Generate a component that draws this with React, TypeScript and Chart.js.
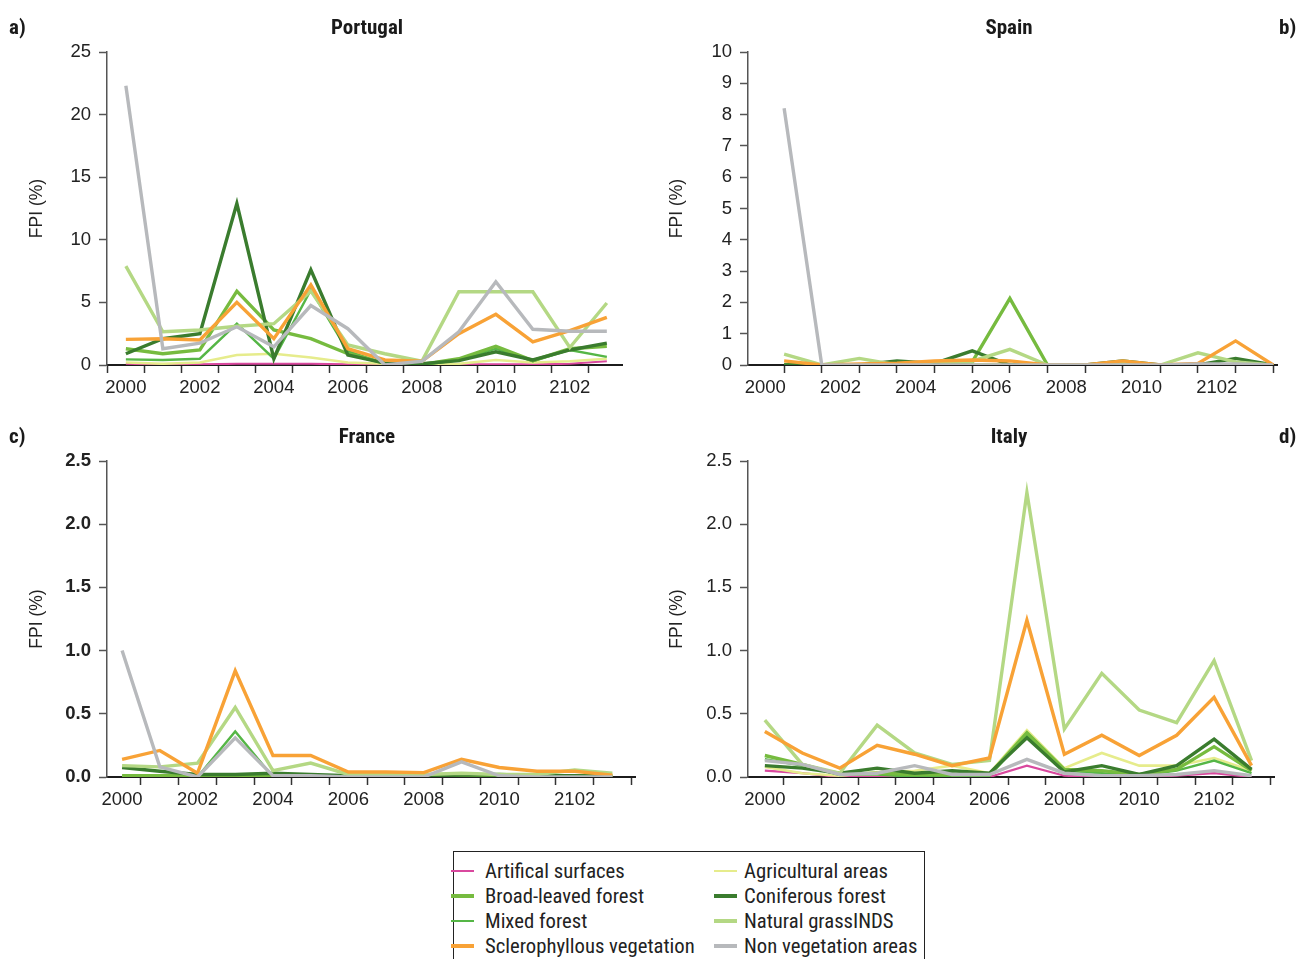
import React, { useEffect, useRef } from 'react';
import { Chart, registerables } from 'chart.js';

Chart.register(...registerables);

const FONT = "'Liberation Sans', Arial, Helvetica, sans-serif";
const NARROW = "'Roboto Condensed', 'Liberation Sans Narrow', 'Arial Narrow', 'DejaVu Sans Condensed', sans-serif";

// ---------- data ----------
const years = [2000, 2001, 2002, 2003, 2004, 2005, 2006, 2007, 2008, 2009, 2010, 2011, 2012, 2013];
const xLabelYears = [2000, 2002, 2004, 2006, 2008, 2010, 2012];
const xLabelTexts = ['2000', '2002', '2004', '2006', '2008', '2010', '2102'];

const landCovers = [
  'Artifical surfaces',
  'Agricultural areas',
  'Broad-leaved forest',
  'Coniferous forest',
  'Mixed forest',
  'Natural grassINDS',
  'Sclerophyllous vegetation',
  'Non vegetation areas',
];

// Portugal
const ptArtificial = [0.1, 0.05, 0.05, 0.1, 0.1, 0.1, 0.05, 0.05, 0.05, 0.05, 0.05, 0.05, 0.1, 0.3];
const ptAgricultural = [0.2, 0.1, 0.2, 0.8, 0.9, 0.6, 0.2, 0.1, 0.0, 0.1, 0.4, 0.2, 0.3, 0.5];
const ptBroadleaved = [1.3, 0.9, 1.2, 5.9, 2.8, 2.1, 0.9, 0.15, 0.05, 0.5, 1.5, 0.35, 1.3, 1.5];
const ptConiferous = [0.9, 2.1, 2.5, 12.9, 0.5, 7.6, 0.8, 0.15, 0.1, 0.35, 1.05, 0.4, 1.2, 1.75];
const ptMixed = [0.45, 0.4, 0.5, 3.3, 0.5, 6.0, 1.1, 0.1, 0.0, 0.4, 1.3, 0.3, 1.2, 0.65];
const ptGrassland = [7.9, 2.65, 2.8, 3.1, 3.3, 5.9, 1.6, 0.9, 0.3, 5.85, 5.85, 5.85, 1.4, 4.95];
const ptSclerophyllous = [2.05, 2.1, 2.0, 5.0, 2.1, 6.4, 1.3, 0.4, 0.3, 2.5, 4.05, 1.85, 2.75, 3.8];
const ptNonVegetation = [22.3, 1.3, 1.75, 3.05, 1.45, 4.75, 2.9, 0.0, 0.3, 2.65, 6.65, 2.85, 2.7, 2.7];

// Spain
const esArtificial = [0, 0, 0, 0, 0, 0, 0, 0, 0, 0, 0, 0, 0, 0];
const esAgricultural = [0.02, 0.02, 0.02, 0.02, 0.02, 0.02, 0.02, 0.02, 0.0, 0.02, 0.02, 0.02, 0.02, 0.0];
const esBroadleaved = [0, 0, 0, 0, 0.03, 0.1, 2.13, 0, 0, 0, 0, 0, 0, 0];
const esConiferous = [0, 0, 0, 0.13, 0.05, 0.45, 0, 0, 0, 0.13, 0, 0, 0.21, 0];
const esMixed = [0.01, 0, 0, 0, 0, 0, 0, 0, 0, 0, 0, 0, 0, 0];
const esGrassland = [0.35, 0, 0.21, 0, 0.1, 0.12, 0.5, 0, 0, 0.05, 0, 0.39, 0.1, 0];
const esSclerophyllous = [0.13, 0, 0.03, 0.06, 0.13, 0.16, 0.13, 0, 0, 0.13, 0, 0.05, 0.77, 0];
const esNonVegetation = [8.2, 0, 0, 0, 0, 0, 0, 0, 0, 0, 0, 0.03, 0.03, 0];

// France
const frArtificial = [0, 0, 0, 0, 0, 0, 0, 0, 0, 0, 0, 0, 0, 0];
const frAgricultural = [0, 0, 0, 0.005, 0, 0, 0, 0, 0, 0, 0, 0, 0, 0];
const frBroadleaved = [0.01, 0.01, 0.01, 0.01, 0.01, 0.01, 0.01, 0.01, 0.01, 0.01, 0.01, 0.01, 0.01, 0.01];
const frConiferous = [0.075, 0.045, 0.02, 0.02, 0.03, 0.02, 0.01, 0.01, 0.01, 0.015, 0.02, 0.01, 0.01, 0.005];
const frMixed = [0, 0, 0, 0.36, 0, 0, 0, 0, 0, 0, 0, 0, 0, 0];
const frGrassland = [0.09, 0.08, 0.11, 0.55, 0.05, 0.11, 0.02, 0.02, 0.02, 0.03, 0.02, 0.02, 0.055, 0.03];
const frSclerophyllous = [0.14, 0.21, 0.03, 0.84, 0.17, 0.17, 0.04, 0.04, 0.035, 0.14, 0.075, 0.045, 0.045, 0.015];
const frNonVegetation = [1.0, 0.08, 0.0, 0.31, 0.01, 0.01, 0, 0, 0, 0.12, 0.01, 0, 0, 0];

// Italy
const itArtificial = [0.05, 0.03, 0.0, 0.0, 0.0, 0.0, 0.0, 0.09, 0.01, 0.0, 0.0, 0.01, 0.03, 0.0];
const itAgricultural = [0.08, 0.03, 0.01, 0.04, 0.05, 0.09, 0.03, 0.37, 0.07, 0.19, 0.09, 0.09, 0.15, 0.05];
const itBroadleaved = [0.17, 0.1, 0.02, 0.03, 0.02, 0.02, 0.02, 0.35, 0.06, 0.05, 0.02, 0.06, 0.24, 0.05];
const itConiferous = [0.09, 0.07, 0.03, 0.07, 0.03, 0.05, 0.03, 0.31, 0.04, 0.09, 0.02, 0.09, 0.3, 0.06];
const itMixed = [0.14, 0.09, 0.02, 0.02, 0.0, 0.0, 0.01, 0.33, 0.05, 0.03, 0.01, 0.05, 0.13, 0.03];
const itGrassland = [0.45, 0.1, 0.03, 0.41, 0.19, 0.1, 0.13, 2.25, 0.38, 0.82, 0.53, 0.43, 0.92, 0.13];
const itSclerophyllous = [0.36, 0.19, 0.07, 0.25, 0.18, 0.09, 0.15, 1.24, 0.18, 0.33, 0.17, 0.33, 0.63, 0.09];
const itNonVegetation = [0.13, 0.1, 0.02, 0.03, 0.09, 0.02, 0.02, 0.14, 0.03, 0.01, 0.01, 0.02, 0.05, 0.01];

const portugalSeries = [ptArtificial, ptAgricultural, ptBroadleaved, ptConiferous, ptMixed, ptGrassland, ptSclerophyllous, ptNonVegetation];
const spainSeries = [esArtificial, esAgricultural, esBroadleaved, esConiferous, esMixed, esGrassland, esSclerophyllous, esNonVegetation];
const franceSeries = [frArtificial, frAgricultural, frBroadleaved, frConiferous, frMixed, frGrassland, frSclerophyllous, frNonVegetation];
const italySeries = [itArtificial, itAgricultural, itBroadleaved, itConiferous, itMixed, itGrassland, itSclerophyllous, itNonVegetation];

const yTicksPortugal = [0, 5, 10, 15, 20, 25];
const yTicksSpain = [0, 1, 2, 3, 4, 5, 6, 7, 8, 9, 10];
const yTicksFraction = [0, 0.5, 1.0, 1.5, 2.0, 2.5];

// ---------- styles ----------
const coverStyles = [
  { color: '#d9489e', width: 2.2, order: 7 },
  { color: '#e6ec8c', width: 2.6, order: 6 },
  { color: '#76bb3f', width: 3.4, order: 4 },
  { color: '#3a7c2e', width: 3.4, order: 3 },
  { color: '#55b646', width: 2.4, order: 5 },
  { color: '#b4d884', width: 3.4, order: 2 },
  { color: '#f8a236', width: 3.4, order: 1 },
  { color: '#b7b9bc', width: 3.4, order: 0 },
];

type PanelCfg = {
  title: string;
  letter: string;
  letterSide: 'left' | 'right';
  series: number[][];
  yTicks: number[];
  decimals: number;
  yBold: boolean;
  xMin: number;
  xMax: number;
  labelPhase: number;
  tickPhase: number;
  box: { left: number; top: number; w: number; h: number };
  area: { l: number; t: number; r: number; b: number };
  titleX: number;
};

const panels: PanelCfg[] = [
  {
    title: 'Portugal', letter: 'a)', letterSide: 'left', series: portugalSeries, yTicks: yTicksPortugal,
    decimals: 0, yBold: false, xMin: 1999.49, xMax: 2013.41, labelPhase: 0, tickPhase: 0.5,
    box: { left: 0, top: 30, w: 648, h: 390 }, area: { l: 107, t: 52, r: 622, b: 365 }, titleX: 37,
  },
  {
    title: 'Spain', letter: 'b)', letterSide: 'right', series: spainSeries, yTicks: yTicksSpain,
    decimals: 0, yBold: false, xMin: 1999.04, xMax: 2013.1, labelPhase: -0.5, tickPhase: 0,
    box: { left: 648, top: 30, w: 648, h: 390 }, area: { l: 748, t: 52, r: 1277, b: 365 }, titleX: 677,
  },
  {
    title: 'France', letter: 'c)', letterSide: 'left', series: franceSeries, yTicks: yTicksFraction,
    decimals: 1, yBold: true, xMin: 1999.6, xMax: 2013.6, labelPhase: 0, tickPhase: 0.5,
    box: { left: 0, top: 440, w: 648, h: 390 }, area: { l: 107, t: 461, r: 635, b: 777 }, titleX: 37,
  },
  {
    title: 'Italy', letter: 'd)', letterSide: 'right', series: italySeries, yTicks: yTicksFraction,
    decimals: 1, yBold: false, xMin: 1999.55, xMax: 2013.6, labelPhase: 0, tickPhase: 0.5,
    box: { left: 648, top: 440, w: 648, h: 390 }, area: { l: 748, t: 461, r: 1274, b: 777 }, titleX: 677,
  },
];

function isWhole(v: number) {
  return Math.abs(v - Math.round(v)) < 1e-6;
}

function Panel({ cfg }: { cfg: PanelCfg }) {
  const ref = useRef<HTMLCanvasElement>(null);
  useEffect(() => {
    const { box, area } = cfg;
    const titleFont = 17.5;
    const padLeft = cfg.titleX - box.left - titleFont * 0.6 - 4;
    const yWidth = area.l - box.left - padLeft;
    const padRight = box.left + box.w - area.r;
    const padTop = area.t - box.top;
    const xHeight = box.top + box.h - area.b;

    const chart = new Chart(ref.current as HTMLCanvasElement, {
      type: 'line',
      data: {
        datasets: cfg.series.map((vals, i) => ({
          label: landCovers[i],
          data: years.map((yr, j) => ({ x: yr, y: vals[j] })),
          borderColor: coverStyles[i].color,
          backgroundColor: coverStyles[i].color,
          borderWidth: coverStyles[i].width,
          order: coverStyles[i].order,
          pointRadius: 0,
          tension: 0,
          fill: false,
          borderJoinStyle: 'miter' as const,
          borderCapStyle: 'butt' as const,
        })),
      },
      options: {
        responsive: false,
        animation: false,
        events: [],
        layout: { padding: { left: padLeft, right: padRight, top: padTop, bottom: 0 } },
        plugins: { legend: { display: false }, tooltip: { enabled: false }, title: { display: false } },
        scales: {
          x: {
            type: 'linear',
            min: cfg.xMin,
            max: cfg.xMax,
            afterBuildTicks: (s: any) => {
              const t: any[] = [];
              for (let v = Math.ceil(cfg.xMin * 2) / 2; v <= cfg.xMax + 1e-9; v += 0.5) t.push({ value: v });
              s.ticks = t;
            },
            afterFit: (s: any) => {
              s.height = xHeight;
            },
            ticks: {
              autoSkip: false,
              maxRotation: 0,
              minRotation: 0,
              padding: 4,
              color: '#222',
              font: { family: FONT, size: 18.5 },
              callback: (v: any) => {
                const yr = Number(v) - cfg.labelPhase;
                const idx = xLabelYears.findIndex((ly) => Math.abs(ly - yr) < 1e-6);
                return idx >= 0 ? xLabelTexts[idx] : '';
              },
            },
            grid: {
              drawOnChartArea: false,
              drawTicks: true,
              tickLength: 8,
              tickWidth: 1.5,
              tickColor: (ctx: any) =>
                ctx.tick && isWhole(ctx.tick.value - cfg.tickPhase) ? '#333' : 'rgba(0,0,0,0)',
            },
            border: { display: true, color: '#1c1c1c', width: 2 },
          },
          y: {
            type: 'linear',
            min: cfg.yTicks[0],
            max: cfg.yTicks[cfg.yTicks.length - 1],
            afterBuildTicks: (s: any) => {
              s.ticks = cfg.yTicks.map((v) => ({ value: v }));
            },
            afterFit: (s: any) => {
              s.width = yWidth;
            },
            ticks: {
              padding: 8,
              color: '#222',
              font: { family: FONT, size: 18.5, weight: cfg.yBold ? 'bold' : 'normal' },
              callback: (v: any) => Number(v).toFixed(cfg.decimals),
            },
            grid: { drawOnChartArea: false, drawTicks: true, tickLength: 8, tickWidth: 1.5, tickColor: '#555' },
            border: { display: true, color: '#555', width: 1.5 },
            title: {
              display: true,
              text: 'FPI (%)',
              color: '#222',
              font: { family: FONT, size: titleFont },
              padding: { top: 4, bottom: 0 },
            },
          },
        },
      },
    } as any);
    return () => chart.destroy();
  }, [cfg]);

  const { box } = cfg;
  const titleY = cfg.area.t - 25;
  return (
    <>
      <canvas
        ref={ref}
        width={box.w}
        height={box.h}
        style={{ position: 'absolute', left: box.left, top: box.top, width: box.w, height: box.h }}
      />
      <div
        style={{
          position: 'absolute',
          left: box.left === 0 ? 367 - 150 : 1009 - 150,
          width: 300,
          top: titleY - 13,
          lineHeight: '26px',
          textAlign: 'center',
          fontFamily: NARROW,
          fontWeight: 'bold',
          fontSize: 21,
          color: '#1a1a1a',
        }}
      >
        {cfg.title}
      </div>
      <div
        style={{
          position: 'absolute',
          left: cfg.letterSide === 'left' ? 9 : 1279,
          top: titleY - 13,
          lineHeight: '26px',
          fontFamily: NARROW,
          fontWeight: 'bold',
          fontSize: 21,
          color: '#1a1a1a',
        }}
      >
        {cfg.letter}
      </div>
    </>
  );
}

function Legend() {
  const leftCol = [0, 2, 4, 6];
  const rightCol = [1, 3, 5, 7];
  const items: React.ReactNode[] = [];
  [leftCol, rightCol].forEach((col, c) => {
    col.forEach((idx, r) => {
      const cy = 871 + r * 25;
      const st = coverStyles[idx];
      items.push(
        <div
          key={`s${idx}`}
          style={{
            position: 'absolute',
            left: c === 0 ? 451 : 714,
            top: cy - st.width / 2,
            width: 23,
            height: st.width,
            background: st.color,
          }}
        />
      );
      items.push(
        <div
          key={`t${idx}`}
          style={{
            position: 'absolute',
            left: c === 0 ? 485 : 744,
            top: cy - 13,
            lineHeight: '26px',
            fontFamily: NARROW,
            fontSize: 20.7,
            color: '#222',
            whiteSpace: 'nowrap',
          }}
        >
          {landCovers[idx]}
        </div>
      );
    });
  });
  return (
    <>
      <div
        style={{
          position: 'absolute',
          left: 453,
          top: 851,
          width: 472,
          height: 130,
          border: '1px solid #222',
          boxSizing: 'border-box',
        }}
      />
      {items}
    </>
  );
}

export default function App() {
  return (
    <div
      style={{
        position: 'absolute',
        left: 0,
        top: 0,
        width: 1296,
        height: 959,
        overflow: 'hidden',
        background: '#fff',
      }}
    >
      {panels.map((p) => (
        <Panel key={p.title} cfg={p} />
      ))}
      <Legend />
    </div>
  );
}
